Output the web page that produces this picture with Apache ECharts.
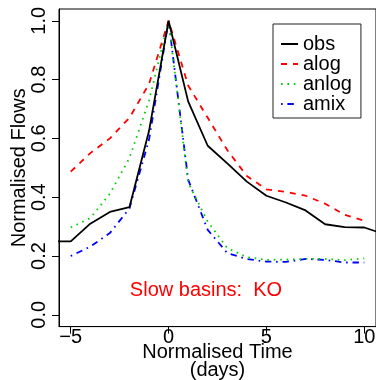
<!DOCTYPE html>
<html>
<head>
<meta charset="utf-8">
<script src="https://cdn.jsdelivr.net/npm/echarts@6/dist/echarts.min.js"></script>
<style>
html,body{margin:0;padding:0;background:#fff;}
#chart{width:376px;height:380px;}
</style>
</head>
<body>
<div id="chart"></div>
<script>
// Time axis (days relative to peak)
const time = [-6,-5,-4,-3,-2,-1,0,1,2,3,4,5,6,7,8,9,10,11];
// Series values (null = not drawn)
const obs   = [0.25,0.25,0.31,0.35,0.366,0.625,1.0,0.726,0.575,0.515,0.453,0.405,0.382,0.355,0.308,0.298,0.297,0.275];
const alog  = [null,0.487,0.55,0.6,0.67,0.785,1.0,0.78,0.67,0.56,0.472,0.427,0.418,0.405,0.378,0.34,0.32,null];
const anlog = [null,0.297,0.329,0.412,0.533,0.728,1.0,0.45,0.317,0.227,0.196,0.187,0.188,0.19,0.19,0.186,0.192,null];
const amix  = [null,0.2,0.232,0.278,0.362,0.595,1.0,0.46,0.289,0.21,0.19,0.181,0.18,0.19,0.187,0.178,0.178,null];
const seriesNames = ['obs','alog','anlog','amix'];
const xTicks = [-5,0,5,10];
const yTicks = [0,0.2,0.4,0.6,0.8,1];
const annotation = 'Slow basins:  KO';

const FONT = 'Liberation Sans, Arial, Helvetica, sans-serif';
function pairs(vals){
  const out = [];
  time.forEach((t,i)=>{ if (vals[i] !== null) out.push([t, vals[i]]); });
  return out;
}
const styles = [
  {color:'#000000', type:'solid'},
  {color:'#ff0000', type:[6,6]},
  {color:'#00cd00', type:[1.6,4.8]},
  {color:'#0000ff', type:[1.6,4.8,6.4,4.8]}
];
const values = [obs, alog, anlog, amix];

const chart = echarts.init(document.getElementById('chart'), null, {renderer:'canvas'});
chart.setOption({
  animation:false,
  textStyle:{fontFamily:FONT},
  grid:{left:59, top:9, width:317, height:317.6, containLabel:false, outerBoundsMode:'none',
    show:true, borderColor:'#000', borderWidth:1, backgroundColor:'transparent'},
  xAxis:{
    type:'value', min:-5.6, max:10.6,
    axisLine:{show:true, onZero:false, lineStyle:{color:'#000', width:1}},
    splitLine:{show:false},
    axisTick:{show:true, customValues:xTicks, length:7, lineStyle:{color:'#000'}},
    axisLabel:{customValues:xTicks, fontSize:20, color:'#000', margin:1, fontFamily:FONT,
      formatter:v=>String(v).replace('-','\u2212')},
    name:'Normalised Time\n(days)', nameLocation:'middle', nameGap:17, nameMoveOverlap:false,
    nameTextStyle:{fontSize:20, lineHeight:18, color:'#000', fontFamily:FONT}
  },
  yAxis:{
    type:'value', min:-0.04, max:1.04,
    axisLine:{show:true, onZero:false, lineStyle:{color:'#000', width:1}},
    splitLine:{show:false},
    axisTick:{show:true, customValues:yTicks, length:7, lineStyle:{color:'#000'}},
    axisLabel:{customValues:yTicks, fontSize:20, color:'#000', margin:10, rotate:90, fontFamily:FONT,
      formatter:v=>v.toFixed(1)},
    name:'Normalised Flows', nameLocation:'middle', nameGap:30, nameRotate:90, nameMoveOverlap:false,
    nameTextStyle:{fontSize:20, color:'#000', fontFamily:FONT}
  },
  legend:{
    orient:'vertical', left:273, top:24, data:seriesNames,
    itemWidth:17, itemHeight:14, itemGap:0,
    padding:[10,9,4,7],
    borderColor:'#222', borderWidth:1, backgroundColor:'#fff',
    itemStyle:{opacity:0},
    textStyle:{fontSize:20, color:'#000', lineHeight:20, fontFamily:FONT}
  },
  series: seriesNames.map((n,k)=>({
    name:n, type:'line', data:pairs(values[k]), symbol:'none', showSymbol:false,
    clip:true, silent:true,
    lineStyle:{color:styles[k].color, width:1.8, type:styles[k].type},
    itemStyle:{color:styles[k].color},
    z: 10 - k
  })),
  graphic:[{
    type:'text', x:206, y:290,
    style:{text:annotation, fill:'#ff0000', font:'20px '+FONT, textAlign:'center', textVerticalAlign:'middle'}
  }]
});
</script>
</body>
</html>
